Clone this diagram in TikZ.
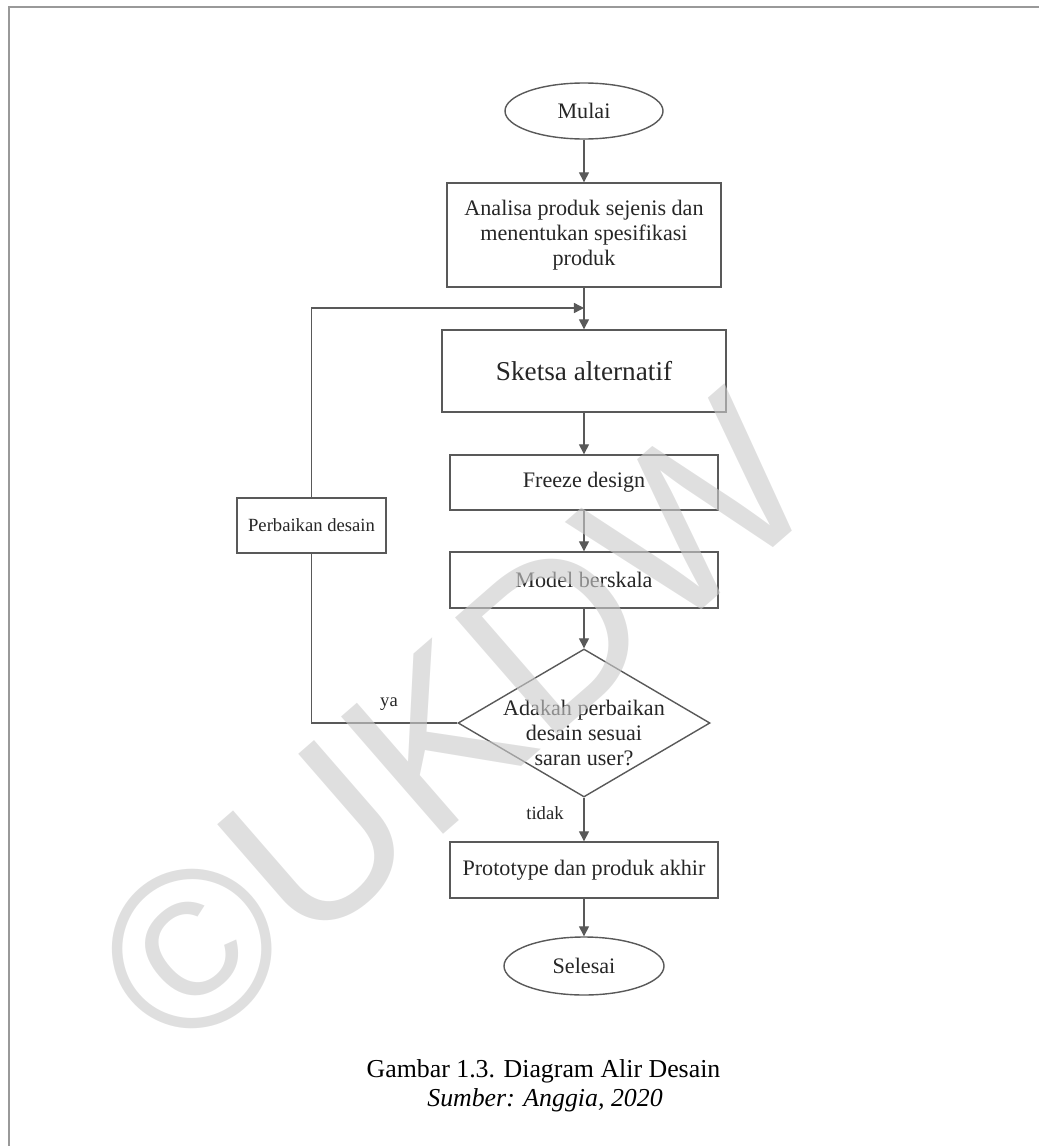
\documentclass[tikz,border=0pt]{standalone}
\usepackage{fontspec}
\setmainfont{Liberation Serif}
\newfontfamily\wmfont{Liberation Sans}
\usepackage{tikz}
\usetikzlibrary{shapes.geometric,arrows.meta}

\tikzset{
    garis/.style={draw=black!65, line width=0.8pt},
    panah/.style={garis, -{Triangle[length=5.7pt,width=5.7pt]}},
    elips/.style={garis, ellipse, inner sep=0pt, text=black!85,
        font=\fontsize{12.6}{14}\selectfont},
    kotak/.style={garis, rectangle, inner sep=0pt, align=center, text=black!85,
        font=\fontsize{12.6}{14.2}\selectfont},
    belah/.style={garis, diamond, inner sep=0pt,
        minimum width=5.04cm, minimum height=2.96cm},
    ket/.style={text=black!85, font=\fontsize{10.6}{12}\selectfont},
    bingkai/.style={draw=black!40, line width=1.2pt}
}

\begin{document}
\begin{tikzpicture}

    \useasboundingbox (0,0) rectangle (20.78,-22.92);

    \draw[bingkai] (0.18,-22.92) -- (0.18,-0.14) -- (20.78,-0.14);

    \node[elips, minimum width=3.16cm, minimum height=1.12cm] (mulai) at (11.68,-2.22) {Mulai};

    \node[kotak, minimum width=5.48cm, minimum height=2.08cm] (analisa) at (11.68,-4.70)
        {Analisa produk sejenis dan\\menentukan spesifikasi\\produk};

    \node[kotak, minimum width=5.68cm, minimum height=1.64cm, font=\fontsize{15.5}{17}\selectfont]
        (sketsa) at (11.68,-7.42) {Sketsa alternatif};

    \node[kotak, minimum width=5.36cm, minimum height=1.10cm] (freeze) at (11.68,-9.65) {Freeze design};

    \node[kotak, minimum width=5.36cm, minimum height=1.12cm] (model) at (11.68,-11.60) {Model berskala};

    \node[belah, label={[ket, align=center, yshift=-0.2cm,
        font=\fontsize{12.6}{14.2}\selectfont]center:Adakah perbaikan\\desain sesuai\\saran user?}]
        (tanya) at (11.68,-14.46) {};

    \node[kotak, minimum width=5.36cm, minimum height=1.12cm] (prototipe) at (11.68,-17.40)
        {Prototype dan produk akhir};

    \node[elips, minimum width=3.20cm, minimum height=1.16cm] (selesai) at (11.68,-19.32) {Selesai};

    \node[kotak, minimum width=2.98cm, minimum height=1.10cm, font=\fontsize{10.6}{12}\selectfont]
        (perbaikan) at (6.23,-10.51) {Perbaikan desain};

    \coordinate (gabung) at (11.68,-6.16);

    \draw[panah] (mulai) -- (analisa);

    \draw[panah] (analisa) -- (sketsa);

    \draw[panah] (sketsa) -- (freeze);

    \draw[panah] (freeze) -- (model);

    \draw[panah] (model) -- (tanya);

    \draw[panah] (tanya) -- (prototipe);

    \draw[panah] (prototipe) -- (selesai);

    \draw[garis] (tanya.west) -- (tanya.west -| perbaikan) -- (perbaikan.south);

    \draw[panah] (perbaikan.north) |- (gabung);

    \node[ket] (ya) at (7.78,-14.08) {ya};

    \node[ket] (tidak) at (10.90,-16.26) {tidak};

    \node[anchor=base, font=\fontsize{14.7}{16.5}\selectfont] (judul) at (10.87,-21.54)
        {Gambar 1.3. Diagram Alir Desain};

    \node[anchor=base, font=\fontsize{14.7}{16.5}\selectfont\itshape] (sumber) at (10.90,-22.12)
        {Sumber: Anggia, 2020};

    \node[rotate=41, text=black!20, text opacity=0.62, inner sep=0pt,
        font=\wmfont\fontsize{128.6}{130}\selectfont] (tanda) at (9.06,-14.46) {©UKDW};

\end{tikzpicture}
\end{document}
